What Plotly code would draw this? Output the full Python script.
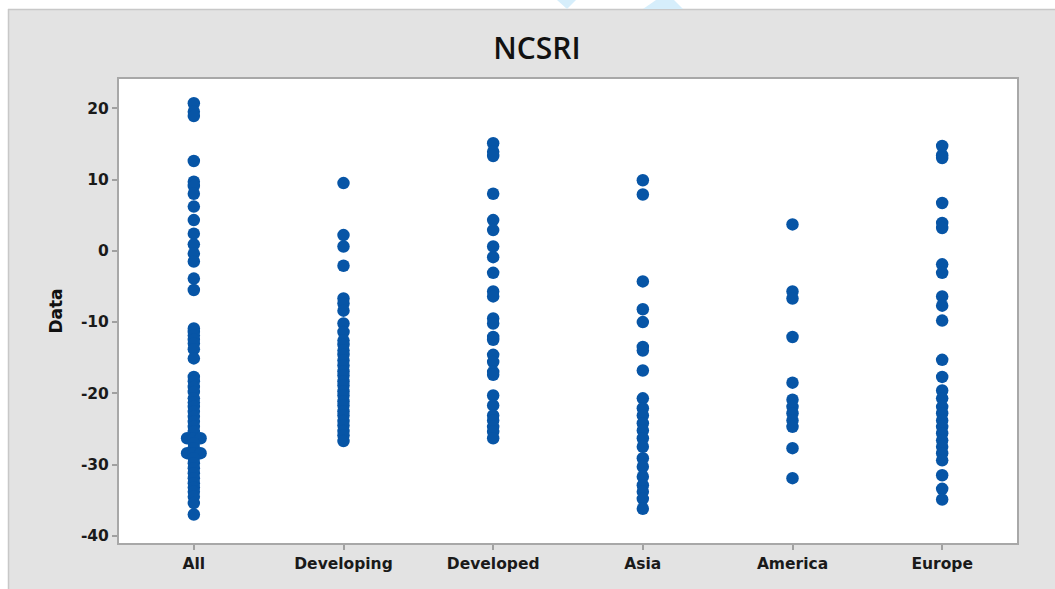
import plotly.graph_objects as go
from collections import Counter

# Individual value plot of NCSRI by country group
categories = ["All", "Developing", "Developed", "Asia", "America", "Europe"]

all_vals = [20.7, 19.5, 18.9, 12.6, 9.7, 9.1, 8.0, 6.2, 4.3, 2.4, 0.9, -0.4, -1.5,
            -3.9, -5.5, -10.9, -11.4, -11.9, -12.5, -13.0, -13.8, -15.1, -17.7,
            -18.3, -19.1, -19.8, -20.7, -21.3, -21.9, -22.6, -23.3, -24.0, -24.7,
            -25.4, -26.3, -26.3, -26.3, -27.0, -27.7, -28.4, -28.4, -28.4, -29.1,
            -29.8, -30.5, -31.2, -31.9, -32.6, -33.2, -33.8, -34.5, -35.4, -37.0]
developing_vals = [9.5, 2.2, 0.6, -2.1, -6.7, -7.4, -8.4, -10.2, -11.4, -12.6, -13.2,
                   -14.0, -14.6, -15.4, -16.1, -16.9, -17.5, -18.3, -18.9, -19.7,
                   -20.3, -21.1, -21.7, -22.5, -23.1, -23.9, -24.5, -25.3, -25.9, -26.7]
developed_vals = [15.1, 13.9, 13.3, 8.0, 4.3, 2.9, 0.6, -0.9, -3.1, -5.7, -6.4, -9.5,
                  -10.2, -12.1, -12.5, -14.6, -15.6, -17.0, -17.4, -20.3, -21.7,
                  -23.1, -23.8, -24.7, -25.4, -26.3]
asia_vals = [9.9, 7.9, -4.3, -8.2, -10.0, -13.5, -14.0, -16.8, -20.7, -22.1, -23.1,
             -24.2, -25.2, -26.3, -27.5, -29.1, -30.3, -31.7, -32.9, -33.8, -34.8, -36.2]
america_vals = [3.7, -5.7, -6.7, -12.1, -18.5, -20.9, -21.9, -22.8, -23.8, -24.7,
                -27.7, -31.9]
europe_vals = [14.7, 13.4, 13.0, 6.7, 3.9, 3.2, -1.9, -3.1, -6.4, -7.7, -9.8, -15.3,
               -17.7, -19.6, -20.7, -21.9, -22.8, -23.8, -24.7, -25.6, -26.6, -27.5,
               -28.4, -29.4, -31.5, -33.4, -34.9]

groups = [all_vals, developing_vals, developed_vals, asia_vals, america_vals, europe_vals]
y_ticks = [20, 10, 0, -10, -20, -30, -40]

W, H = 1055, 589
L, R, T, B = 119, 1017, 79, 543
BLUE = "#0755a6"
TICK_FONT = "DejaVu Sans"
TITLE_FONT = "Open Sans"

# Tied values sit side by side, centred on the category position
DODGE = 0.045
xs, ys = [], []
for i, vals in enumerate(groups):
    counts = Counter(vals)
    seen = Counter()
    for v in vals:
        n = counts[v]
        k = seen[v]
        seen[v] += 1
        xs.append(i + (k - (n - 1) / 2) * DODGE)
        ys.append(v)

fig = go.Figure(go.Scatter(
    x=xs, y=ys, mode="markers",
    marker=dict(symbol="circle", size=12.5, color=BLUE, line=dict(width=0)),
    hoverinfo="y", showlegend=False,
))


def px_x(px):
    return (px - L) / (R - L)


def px_y(py):
    return (B - py) / (B - T)


shapes = [
    # white page strips around the grey panel
    dict(type="rect", xref="paper", yref="paper", x0=px_x(0), x1=px_x(W), y0=px_y(9), y1=px_y(0),
         fillcolor="white", line=dict(width=0), layer="above"),
    dict(type="rect", xref="paper", yref="paper", x0=px_x(0), x1=px_x(8), y0=px_y(H), y1=px_y(0),
         fillcolor="white", line=dict(width=0), layer="above"),
    dict(type="line", xref="paper", yref="paper", x0=px_x(8), x1=px_x(W), y0=px_y(9.5), y1=px_y(9.5),
         line=dict(color="#c8c8c8", width=1.5), layer="above"),
    dict(type="line", xref="paper", yref="paper", x0=px_x(8.5), x1=px_x(8.5), y0=px_y(9), y1=px_y(H),
         line=dict(color="#c8c8c8", width=1.5), layer="above"),
    # faint header marks above the panel
    dict(type="path", xref="paper", yref="paper",
         path=f"M {px_x(557)},{px_y(0)} L {px_x(576)},{px_y(0)} L {px_x(567)},{px_y(9)} Z",
         fillcolor="#d6eefb", line=dict(width=0), layer="above"),
    dict(type="path", xref="paper", yref="paper",
         path=f"M {px_x(656)},{px_y(0)} L {px_x(674)},{px_y(0)} L {px_x(683)},{px_y(9)} L {px_x(643)},{px_y(9)} Z",
         fillcolor="#d6eefb", line=dict(width=0), layer="above"),
]

fig.update_layout(
    width=W, height=H,
    margin=dict(l=L, r=W - R, t=T, b=H - B, pad=0),
    paper_bgcolor="#e3e3e3",
    plot_bgcolor="white",
    title=dict(text="NCSRI", x=537 / W, xanchor="center", y=1 - 48 / H, yanchor="middle",
               font=dict(family=TITLE_FONT, size=30, color="#111111", weight=600)),
    shapes=shapes,
    xaxis=dict(
        range=[-0.5, len(categories) - 0.5],
        tickmode="array", tickvals=list(range(len(categories))), ticktext=categories,
        ticks="outside", ticklen=5, tickwidth=1.5, tickcolor="#a0a0a0",
        showline=True, mirror=True, linecolor="#a8a8a8", linewidth=2,
        showgrid=False, zeroline=False,
        tickfont=dict(family=TICK_FONT, size=15.5, color="#1a1a1a", weight="bold"),
    ),
    yaxis=dict(
        range=[-41.0, 24.1],
        tickmode="array", tickvals=y_ticks, ticktext=[str(t) for t in y_ticks],
        ticks="outside", ticklen=5, tickwidth=1.5, tickcolor="#a0a0a0",
        showline=True, mirror=True, linecolor="#a8a8a8", linewidth=2,
        showgrid=False, zeroline=False,
        tickfont=dict(family=TICK_FONT, size=15.5, color="#1a1a1a", weight="bold"),
        title=dict(text="Data", standoff=14,
                   font=dict(family=TICK_FONT, size=17, color="#111111", weight="bold")),
    ),
)

fig.write_html("out.html")
